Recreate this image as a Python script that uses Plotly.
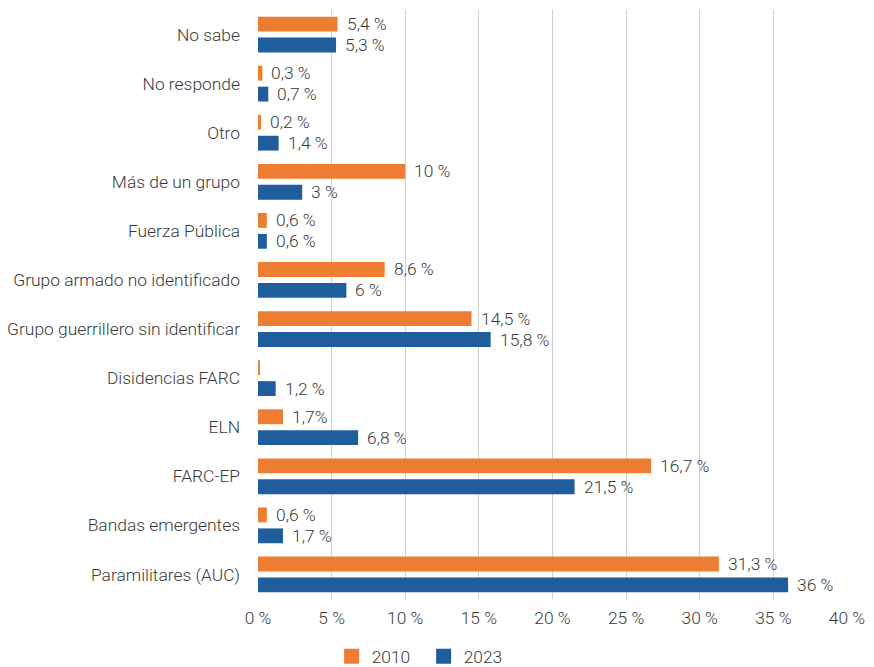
import plotly.graph_objects as go

categories = ["No sabe", "No responde", "Otro", "Más de un grupo", "Fuerza Pública",
              "Grupo armado no identificado", "Grupo guerrillero sin identificar",
              "Disidencias FARC", "ELN", "FARC-EP", "Bandas emergentes", "Paramilitares (AUC)"]
values_2010 = [5.4, 0.3, 0.2, 10, 0.6, 8.6, 14.5, 0.1, 1.7, 26.7, 0.6, 31.3]
values_2023 = [5.3, 0.7, 1.4, 3, 0.6, 6, 15.8, 1.2, 6.8, 21.5, 1.7, 36]
labels_2010 = ["5,4 %", "0,3 %", "0,2 %", "10 %", "0,6 %", "8,6 %", "14,5 %", "", "1,7%", "16,7 %", "0,6 %", "31,3 %"]
labels_2023 = ["5,3 %", "0,7 %", "1,4 %", "3 %", "0,6 %", "6 %", "15,8 %", "1,2 %", "6,8 %", "21,5 %", "1,7 %", "36 %"]
x_ticks = [0, 5, 10, 15, 20, 25, 30, 35, 40]
x_tick_labels = ["0 %", "5 %", "10 %", "15 %", "20 %", "25 %", "30 %", "35 %", "40 %"]

ORANGE = "#ED7D31"
BLUE = "#1F5D9C"
TEXT = "#3A3A3A"
FONT = "Roboto, Noto Sans, sans-serif"
FS = 17.4
W = 300

fig = go.Figure()
fig.add_trace(go.Bar(y=categories, x=values_2010, name="2010", orientation="h",
                     marker=dict(color=ORANGE, line=dict(width=0)), showlegend=False))
fig.add_trace(go.Bar(y=categories, x=values_2023, name="2023", orientation="h",
                     marker=dict(color=BLUE, line=dict(width=0)), showlegend=False))
# legend entries with square markers
for name, col in (("2010", ORANGE), ("2023", BLUE)):
    fig.add_trace(go.Scatter(x=[None], y=[None], mode="markers", name=name,
                             marker=dict(symbol="square", size=15, color=col)))

annotations = []
for cat, v, t in zip(categories, values_2010, labels_2010):
    if t:
        annotations.append(dict(x=v, y=cat, text=t, xanchor="left", yanchor="middle",
                                xshift=7, yshift=10.5, showarrow=False,
                                font=dict(family=FONT, size=FS, color=TEXT, weight=W)))
for cat, v, t in zip(categories, values_2023, labels_2023):
    if t:
        annotations.append(dict(x=v, y=cat, text=t, xanchor="left", yanchor="middle",
                                xshift=7, yshift=-10.5, showarrow=False,
                                font=dict(family=FONT, size=FS, color=TEXT, weight=W)))

fig.update_layout(
    width=874, height=667,
    margin=dict(l=258, r=27, t=10, b=68, autoexpand=False),
    paper_bgcolor="white", plot_bgcolor="white",
    barmode="group", bargap=0.148, bargroupgap=0.29,
    font=dict(family=FONT, size=FS, color=TEXT, weight=W),
    annotations=annotations,
    legend=dict(orientation="h", x=0.125, xanchor="left", y=-0.067, yanchor="top",
                font=dict(family=FONT, size=FS, color=TEXT, weight=W), itemwidth=30,
                entrywidth=47),
    xaxis=dict(range=[0, 40], tickvals=x_ticks, ticktext=x_tick_labels, automargin=False,
               showgrid=True, gridcolor="#D0D0D0", gridwidth=1.3,
               zeroline=False, showline=False, ticks="", ticklabelstandoff=7,
               tickfont=dict(family=FONT, size=FS, color=TEXT, weight=W)),
    yaxis=dict(autorange="reversed", showgrid=False, zeroline=False, showline=False,
               ticks="", ticklabelstandoff=17, automargin=False,
               tickfont=dict(family=FONT, size=FS, color=TEXT, weight=W)),
)

fig.write_html("out.html", config={"displayModeBar": False},
               post_script="document.body.style.margin='0';")
